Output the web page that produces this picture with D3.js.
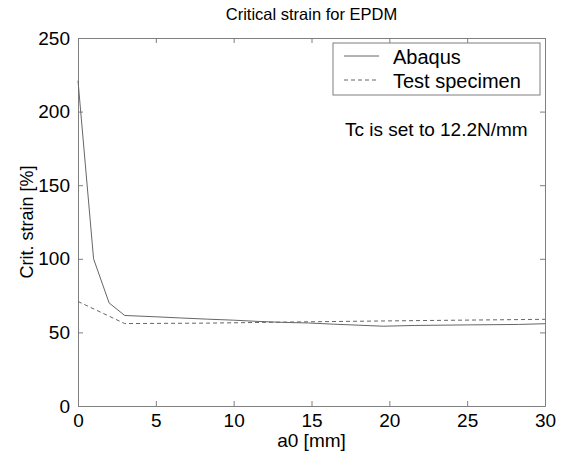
<!DOCTYPE html>
<html>
<head>
<meta charset="utf-8">
<script src="https://cdn.jsdelivr.net/npm/d3@7"></script>
<style>
  body { margin: 0; background: #fff; }
  text { font-family: "Liberation Sans", Arial, sans-serif; fill: #000; }
</style>
</head>
<body>
<div id="chart"></div>
<script>
// data
var abaqusX = [0, 1, 2, 3, 5, 6.6, 8.3, 10, 11.5, 13.2, 14.8, 16.4, 18, 19.6, 21.6, 25, 28.3, 30];
var abaqusY = [221, 100, 70, 61.5, 60.6, 59.8, 59, 58.3, 57.5, 56.8, 56.4, 55.6, 54.9, 54.2, 54.7, 55.1, 55.4, 55.9];
var testX = [0, 3, 8.3, 14.8, 21.6, 28.3, 30];
var testY = [71, 56, 56.3, 57.2, 58, 58.7, 58.9];
var xTicks = [0, 5, 10, 15, 20, 25, 30];
var yTicks = [0, 50, 100, 150, 200, 250];

var W = 565, H = 456;
var margin = { top: 38, right: 20, bottom: 50, left: 78 },
  width = W - margin.left - margin.right,
  height = H - margin.top - margin.bottom;

var svg = d3
  .select("#chart")
  .append("svg")
  .attr("width", W)
  .attr("height", H);

var g = svg.append("g")
  .attr("transform", "translate(" + margin.left + "," + margin.top + ")");

var x = d3.scaleLinear().domain([0, 30]).range([0, width]);
var y = d3.scaleLinear().domain([0, 250]).range([height, 0]);

var axisColor = "#7f7f7f";

// axes, MATLAB style: ticks inside, box all round
function styleAxis(sel) {
  sel.select(".domain").attr("stroke", axisColor);
  sel.selectAll(".tick line").attr("stroke", axisColor);
  sel.selectAll("text")
    .attr("font-family", "Liberation Sans, Arial, sans-serif")
    .attr("font-size", "19px")
    .attr("fill", "#000");
}

g.append("g")
  .attr("transform", "translate(0," + height + ")")
  .call(d3.axisBottom(x).tickValues(xTicks).tickSizeInner(-5).tickSizeOuter(0).tickPadding(8))
  .call(styleAxis);

g.append("g")
  .call(d3.axisLeft(y).tickValues(yTicks).tickSizeInner(-5).tickSizeOuter(0).tickPadding(8))
  .call(styleAxis);

g.append("g")
  .call(d3.axisTop(x).tickValues(xTicks).tickSizeInner(-5).tickSizeOuter(0).tickFormat(""))
  .call(styleAxis);

g.append("g")
  .attr("transform", "translate(" + width + ",0)")
  .call(d3.axisRight(y).tickValues(yTicks).tickSizeInner(-5).tickSizeOuter(0).tickFormat(""))
  .call(styleAxis);

// lines
var lineColor = "#666";
var line = d3.line()
  .x(function (d) { return x(d[0]); })
  .y(function (d) { return y(d[1]); });

var abaqus = abaqusX.map(function (v, i) { return [v, abaqusY[i]]; });
var test = testX.map(function (v, i) { return [v, testY[i]]; });

g.append("path")
  .attr("d", line(abaqus))
  .attr("fill", "none")
  .attr("stroke", lineColor)
  .attr("stroke-width", 1);

g.append("path")
  .attr("d", line(test))
  .attr("fill", "none")
  .attr("stroke", lineColor)
  .attr("stroke-width", 1)
  .attr("stroke-dasharray", "4,3");

// title and labels
svg.append("text")
  .attr("x", margin.left + width / 2)
  .attr("y", 20)
  .attr("text-anchor", "middle")
  .attr("font-size", "16.5px")
  .text("Critical strain for EPDM");

svg.append("text")
  .attr("x", margin.left + width / 2)
  .attr("y", 447)
  .attr("text-anchor", "middle")
  .attr("font-size", "19px")
  .text("a0 [mm]");

svg.append("text")
  .attr("transform", "translate(33," + (margin.top + height / 2) + ")rotate(-90)")
  .attr("text-anchor", "middle")
  .attr("font-size", "18px")
  .text("Crit. strain [%]");

// legend
var legend = svg.append("g").attr("transform", "translate(333,43)");
legend.append("rect")
  .attr("width", 207)
  .attr("height", 52)
  .attr("fill", "#fff")
  .attr("stroke", axisColor);

var legendItems = [
  { name: "Abaqus", dash: null },
  { name: "Test specimen", dash: "4,3" }
];
legendItems.forEach(function (d, i) {
  var yy = 13 + i * 24;
  legend.append("line")
    .attr("x1", 11).attr("x2", 46)
    .attr("y1", yy).attr("y2", yy)
    .attr("stroke", lineColor)
    .attr("stroke-dasharray", d.dash);
  legend.append("text")
    .attr("x", 60)
    .attr("y", yy + 8)
    .attr("font-size", "20px")
    .text(d.name);
});

svg.append("text")
  .attr("x", 345)
  .attr("y", 136)
  .attr("font-size", "19px")
  .text("Tc is set to 12.2N/mm");
</script>
</body>
</html>
